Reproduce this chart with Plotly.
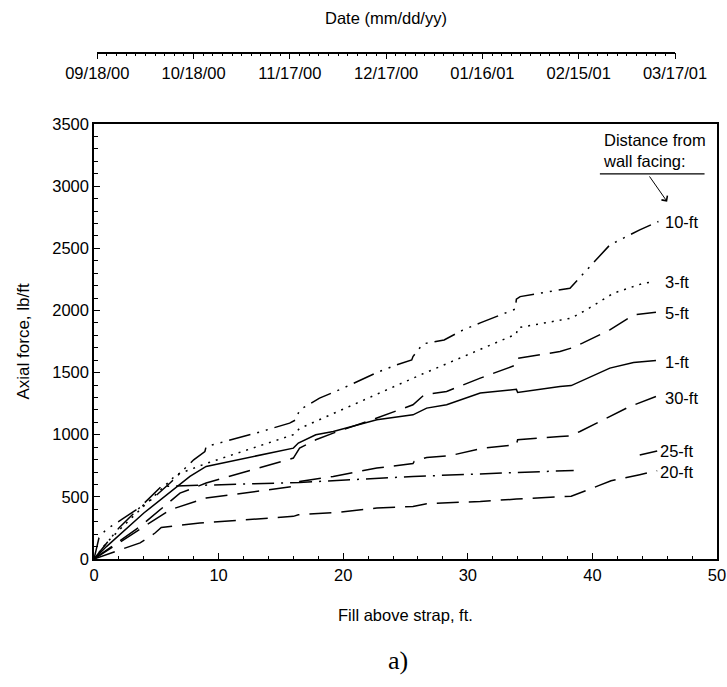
import plotly.graph_objects as go

# ---------------- data ----------------
x_1ft = [0, 1, 4, 7.7, 9, 16, 16.4, 17.8, 19.2, 22.7, 25.6, 26.7, 28.3, 31, 33.9, 34, 37.4, 38.3, 41.4, 43.3, 45.1]
y_1ft = [0, 100, 370, 664, 745, 892, 933, 1000, 1026, 1120, 1160, 1214, 1241, 1335, 1365, 1340, 1388, 1395, 1536, 1581, 1597]

x_3ft = [0, 1, 2.5, 6.6, 9.1, 16.0, 16.5, 19.6, 26.4, 33.9, 34.0, 38.3, 39.5, 41.7, 44.1, 45.0]
y_3ft = [0, 130, 280, 678, 772, 1000, 1050, 1187, 1490, 1810, 1860, 1938, 2004, 2139, 2219, 2232]

x_5ft = [0, 3.7, 6.9, 9, 16, 16.5, 17.8, 19.2, 22.7, 25.6, 26.5, 28.3, 31, 33.9, 34, 37.4, 38.3, 39.2, 41.4, 43.3, 45.1]
y_5ft = [0, 262, 530, 611, 812, 892, 959, 1013, 1134, 1241, 1321, 1348, 1455, 1562, 1615, 1669, 1697, 1737, 1844, 1964, 1986]

x_10ft = [0, 0.4, 1.0, 2.2, 4.6, 6.1, 8.0, 8.9, 9.0, 13.0, 15.7, 16.2, 16.5, 17.6, 18.1, 20.0, 21.2, 22.7, 24.3,
          25.5, 25.6, 26.1, 26.4, 28.1, 29.6, 31.0, 33.8, 33.9, 34.2, 38.2, 39.2, 39.8, 41.4, 43.8, 45.3]
y_10ft = [0, 170, 240, 316, 477, 611, 798, 865, 905, 1013, 1093, 1120, 1200, 1267, 1294, 1375, 1428, 1500, 1562,
          1602, 1629, 1697, 1731, 1762, 1842, 1900, 2010, 2090, 2111, 2179, 2286, 2353, 2527, 2648, 2715]

x_20ft = [0, 3.7, 4.9, 5.4, 8.5, 13.0, 16.0, 16.4, 19.6, 22.7, 25.6, 26.7, 31.0, 33.9, 36.8, 38.3, 40.5, 41.5, 43.8, 45.2]
y_20ft = [0, 130, 209, 254, 289, 322, 343, 356, 375, 410, 423, 445, 463, 482, 498, 505, 590, 630, 678, 710]

x_25ft = [0, 2.0, 5.4, 15.7, 16.5, 25.6, 37.4, 38.5, None, 43.8, 45.2]
y_25ft = [0, 250, 584, 611, 616, 664, 704, 713, None, 837, 869]

x_30ft = [0, 3.4, 6.1, 9.0, 16.0, 16.5, 19.2, 22.7, 25.6, 25.7, 26.7, 28.5, 31.2, 33.9, 34.0, 37.4, 38.2, 39.0, 43.0, 45.1]
y_30ft = [0, 222, 396, 490, 584, 624, 664, 732, 768, 785, 817, 830, 892, 919, 959, 986, 991, 1026, 1227, 1307]

series_names = ["1-ft", "3-ft", "5-ft", "10-ft", "20-ft", "25-ft", "30-ft"]
label_x = [45.7, 45.7, 45.7, 45.7, 45.3, 45.3, 45.7]
label_y = [1589, 2232, 1978, 2714, 704, 871, 1295]

date_start = "2000-09-18"
date_end = "2001-03-17"

# ---------------- figure ----------------
FONT = "Liberation Sans, Arial, Helvetica, sans-serif"
series = [
    (x_1ft, y_1ft, "solid"),
    (x_3ft, y_3ft, "2px,6px"),
    (x_5ft, y_5ft, "22px,10px"),
    (x_10ft, y_10ft, "22px,7px,2px,7px,2px,7px"),
    (x_20ft, y_20ft, "22px,10px"),
    (x_25ft, y_25ft, "22px,7px,2px,7px"),
    (x_30ft, y_30ft, "22px,10px"),
]

fig = go.Figure()
for name, (xs, ys, dash) in zip(series_names, series):
    fig.add_trace(go.Scatter(x=xs, y=ys, mode="lines", name=name, connectgaps=False,
                             line=dict(color="black", width=1.5, dash=dash), showlegend=False))

# invisible trace to carry the date axis
fig.add_trace(go.Scatter(x=[date_start, date_end], y=[0.5, 0.5], xaxis="x2", yaxis="y2",
                         mode="markers", marker=dict(opacity=0), hoverinfo="skip", showlegend=False))

W, H = 727, 687
L, R, T, B = 94, 10, 10, 128
ph = H - T - B
pw = W - L - R
ytop = (559 - 124) / ph
yline2 = (559 - 51.7) / ph

axis_common = dict(showline=True, linecolor="black", linewidth=1.5, showgrid=False, zeroline=False,
                   tickfont=dict(family=FONT, size=16.5, color="black"), tickcolor="black",
                   automargin=False)

fig.update_layout(
    width=W, height=H, margin=dict(l=L, r=R, t=T, b=B),
    paper_bgcolor="white", plot_bgcolor="white",
    xaxis=dict(range=[0, 50], tick0=0, dtick=10, ticks="inside", ticklen=6, tickwidth=1.2,
               mirror=True, minor=dict(dtick=2, ticks="inside", ticklen=3, tickcolor="black", tickwidth=1.2),
               **axis_common),
    yaxis=dict(range=[0, 3500], tick0=0, dtick=500, ticks="inside", ticklen=6, tickwidth=1.2,
               mirror=True, domain=[0, ytop],
               minor=dict(dtick=100, ticks="inside", ticklen=4, tickcolor="black", tickwidth=1.2),
               **axis_common),
    xaxis2=dict(type="date", range=[date_start, date_end], anchor="y2", side="bottom",
                domain=[(97.3 - L) / pw, (675 - L) / pw],
                tick0=date_start, dtick=30 * 86400000, tickformat="%m/%d/%y",
                ticks="outside", ticklen=6, tickwidth=1.2,
                minor=dict(dtick=3 * 86400000, ticks="outside", ticklen=3, tickcolor="black", tickwidth=1.2),
                **axis_common),
    yaxis2=dict(domain=[yline2, 1], range=[0, 1], visible=False),
)

def py(p):
    return (559 - p) / ph

def px(p):
    return (p - L) / pw

ann = [
    dict(text="Date (mm/dd/yy)", x=px(386), y=py(18), xref="paper", yref="paper", showarrow=False,
         font=dict(family=FONT, size=16.5, color="black"), xanchor="center", yanchor="middle"),
    dict(text="Fill above strap, ft.", x=0.5, y=py(615), xref="paper", yref="paper", showarrow=False,
         font=dict(family=FONT, size=16.5, color="black"), xanchor="center", yanchor="middle"),
    dict(text="Axial force, lb/ft", x=px(23), y=py(341.5), xref="paper", yref="paper", showarrow=False,
         textangle=-90, font=dict(family=FONT, size=17, color="black"), xanchor="center", yanchor="middle"),
    dict(text="a)", x=px(398), y=py(660), xref="paper", yref="paper", showarrow=False,
         font=dict(family="Liberation Serif, Times New Roman, serif", size=26, color="black"),
         xanchor="center", yanchor="middle"),
    dict(text="Distance from<br>wall facing:", x=40.65, y=3285, xref="x", yref="y", showarrow=False,
         xanchor="left", yanchor="middle", align="left", font=dict(family=FONT, size=16.5, color="black")),
    dict(x=46.0, y=2875, ax=44.5, ay=3090, xref="x", yref="y", axref="x", ayref="y", text="",
         showarrow=True, arrowhead=4, arrowsize=1.4, arrowwidth=1, arrowcolor="black"),
]
for name, lx, ly in zip(series_names, label_x, label_y):
    ann.append(dict(text=name, x=lx, y=ly, xref="x", yref="y", showarrow=False, xanchor="left",
                    yanchor="middle", font=dict(family=FONT, size=16.5, color="black")))
fig.update_layout(annotations=ann)

fig.add_shape(type="line", x0=40.6, x1=49.0, y0=3098, y1=3098, xref="x", yref="y",
              line=dict(color="black", width=1.2))

fig.write_html("out.html")
